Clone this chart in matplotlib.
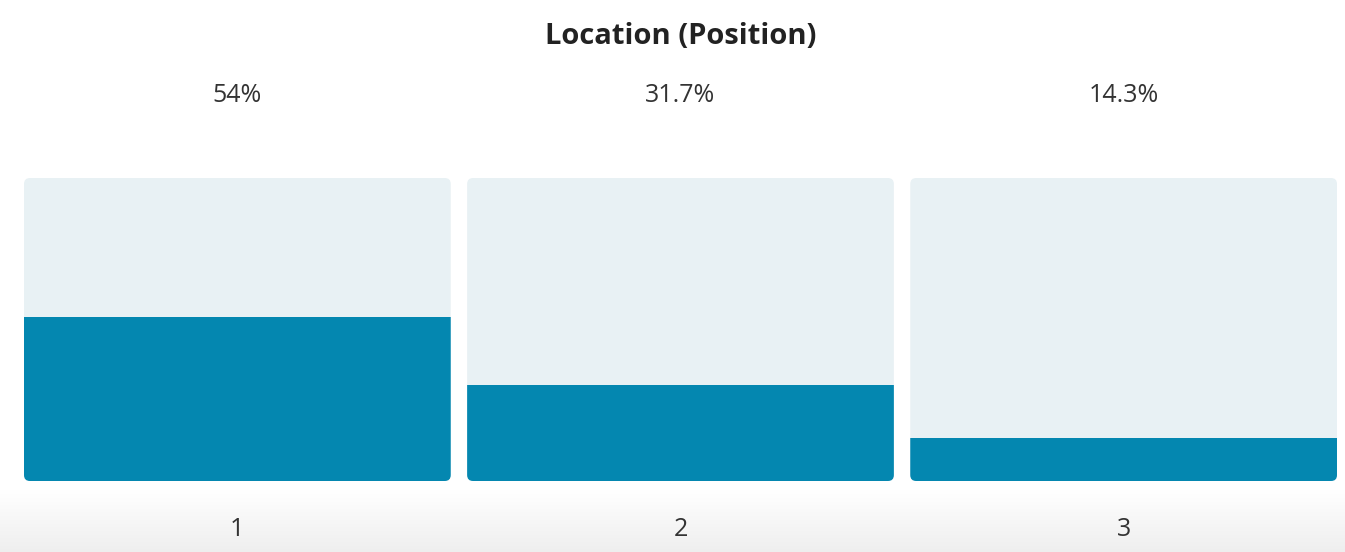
import matplotlib
matplotlib.use("Agg")
import matplotlib.pyplot as plt
import numpy as np
from matplotlib.patches import FancyBboxPatch

categories = ["1", "2", "3"]
values = [54, 31.7, 14.3]
value_labels = ["54%", "31.7%", "14.3%"]
title = "Location (Position)"

W, H = 1345, 552
fig = plt.figure(figsize=(W / 100, H / 100), dpi=100)
fig.patch.set_facecolor("white")

# bottom gradient band
gax = fig.add_axes([0, 0, 1, 62 / H])
grad = np.linspace(1.0, 0.935, 64).reshape(-1, 1)
gax.imshow(np.dstack([grad, grad, grad]), aspect="auto", extent=[0, 1, 0, 1], origin="upper")
gax.axis("off")

left_px, right_px, top_px, bot_px = 24, 1337, 178, 481
ax = fig.add_axes([left_px / W, 1 - bot_px / H, (right_px - left_px) / W, (bot_px - top_px) / H])
x = np.arange(len(categories))
width = 0.963
ax.set_xlim(-width / 2, len(categories) - 1 + width / 2)
ax.set_ylim(0, 100)
ax.axis("off")

bg_color = "#E8F1F4"
fill_color = "#0487B0"

px_per_x = (right_px - left_px) / (ax.get_xlim()[1] - ax.get_xlim()[0])
px_per_y = (bot_px - top_px) / 100
r_px = 6
r_x = r_px / px_per_x
aspect = (r_px / px_per_y) / r_x

bg = ax.bar(x, [100] * len(x), width=width, color=bg_color, linewidth=0)
fg = ax.bar(x, values, width=width, color=fill_color, linewidth=0)
for i, (b, f) in enumerate(zip(bg, fg)):
    clip = FancyBboxPatch((x[i] - width / 2, 0), width, 100,
                          boxstyle=f"round,pad=0,rounding_size={r_x}",
                          mutation_aspect=aspect, transform=ax.transData,
                          facecolor="none", edgecolor="none")
    ax.add_patch(clip)
    b.set_clip_path(clip)
    f.set_clip_path(clip)

font = ["Open Sans", "DejaVu Sans"]
for i in range(len(x)):
    cx = ax.transData.transform((x[i], 0))[0] / W
    fig.text(cx, 1 - 96 / H, value_labels[i], ha="center", va="center",
             fontsize=18, color="#333333", family=font)
    fig.text(cx, 1 - 529 / H, categories[i], ha="center", va="center",
             fontsize=18, color="#333333", family=font)

fig.text(681 / W, 1 - 36 / H, title, ha="center", va="center",
         fontsize=21, fontweight="bold", color="#222222", family=font)

fig.savefig("out.png", dpi=100, facecolor="white")
